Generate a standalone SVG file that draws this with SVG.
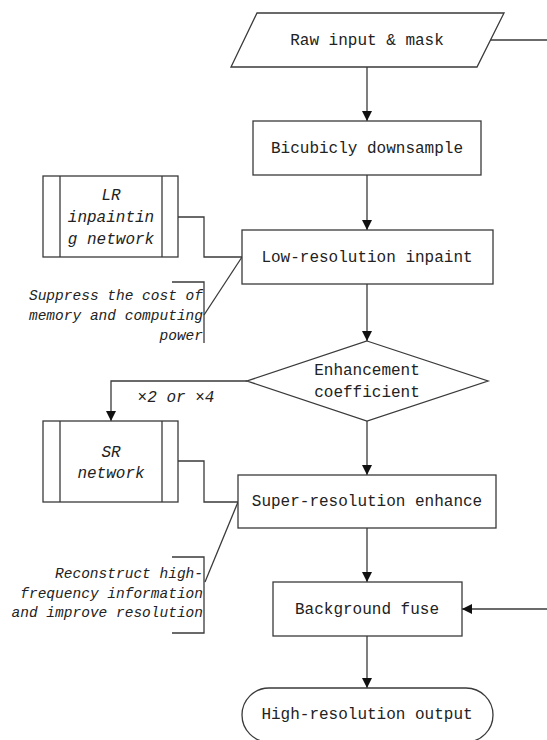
<svg xmlns="http://www.w3.org/2000/svg" width="547" height="740" viewBox="0 0 547 740">
<style>
.shape{fill:#fff;stroke:#3a3a3a;stroke-width:1.3}
.line{fill:none;stroke:#3a3a3a;stroke-width:1.3}
.t{font-family:"Liberation Mono",monospace;font-size:16px;fill:#222;text-anchor:middle}
.it{font-family:"Liberation Mono",monospace;font-style:italic;fill:#222}
.note{font-size:14.5px;text-anchor:end}
</style>
<defs>
<marker id="arr" viewBox="0 0 10 10" refX="10" refY="5" markerWidth="10" markerHeight="10" markerUnits="userSpaceOnUse" orient="auto">
<path d="M0,0 L10,5 L0,10 Z" fill="#111"/>
</marker>
</defs>
<g id="connectors">
<line class="line" x1="367" y1="67" x2="367" y2="121" marker-end="url(#arr)"/>
<line class="line" x1="490" y1="40" x2="547" y2="40"/>
<line class="line" x1="367" y1="175" x2="367" y2="230" marker-end="url(#arr)"/>
<line class="line" x1="367" y1="284" x2="367" y2="341" marker-end="url(#arr)"/>
<line class="line" x1="367" y1="421" x2="367" y2="475" marker-end="url(#arr)"/>
<polyline class="line" points="247,381 111,381 111,421" marker-end="url(#arr)"/>
<line class="line" x1="367" y1="528" x2="367" y2="582" marker-end="url(#arr)"/>
<line class="line" x1="547" y1="609" x2="462" y2="609" marker-end="url(#arr)"/>
<line class="line" x1="367" y1="636" x2="367" y2="688" marker-end="url(#arr)"/>
<polyline class="line" points="178,217 204,217 204,257 242,257"/>
<polyline class="line" points="178,461 204,461 204,502 238,502"/>
<polyline class="line" points="172,282 204,282 204,343"/>
<line class="line" x1="204" y1="315" x2="242" y2="257"/>
<polyline class="line" points="172,557 204,557 204,633 172,633"/>
<line class="line" x1="205" y1="582" x2="238" y2="502"/>
</g>
<g id="raw-input">
<polygon class="shape" points="257,13 504,13 477,67 231,67"/>
<text class="t" x="367" y="45">Raw input &amp; mask</text>
</g>
<g id="bicubic">
<rect class="shape" x="253" y="121" width="228" height="54"/>
<text class="t" x="367" y="153">Bicubicly downsample</text>
</g>
<g id="low-res">
<rect class="shape" x="242" y="230" width="251" height="54"/>
<text class="t" x="367" y="262">Low-resolution inpaint</text>
</g>
<g id="lr-network">
<rect class="shape" x="43" y="176" width="135" height="81"/>
<line class="line" x1="60" y1="176" x2="60" y2="257"/>
<line class="line" x1="162" y1="176" x2="162" y2="257"/>
<text class="it" x="111" y="200" font-size="16" text-anchor="middle">LR</text>
<text class="it" x="111" y="222" font-size="16" text-anchor="middle">inpaintin</text>
<text class="it" x="111" y="244" font-size="16" text-anchor="middle">g network</text>
</g>
<g id="note-lr">
<text class="it note" x="203" y="300">Suppress the cost of</text>
<text class="it note" x="203" y="320">memory and computing</text>
<text class="it note" x="203" y="340">power</text>
</g>
<g id="decision">
<polygon class="shape" points="367,341 488,381 367,421 247,381"/>
<text class="t" x="367" y="375">Enhancement</text>
<text class="t" x="367" y="397">coefficient</text>
</g>
<g id="scale-label">
<text class="it" x="176" y="402" font-size="16" text-anchor="middle">×2 or ×4</text>
</g>
<g id="sr-network">
<rect class="shape" x="43" y="421" width="135" height="81"/>
<line class="line" x1="60" y1="421" x2="60" y2="502"/>
<line class="line" x1="162" y1="421" x2="162" y2="502"/>
<text class="it" x="111" y="457" font-size="16" text-anchor="middle">SR</text>
<text class="it" x="111" y="478" font-size="16" text-anchor="middle">network</text>
</g>
<g id="super-res">
<rect class="shape" x="238" y="475" width="258" height="53"/>
<text class="t" x="367" y="506">Super-resolution enhance</text>
</g>
<g id="note-sr">
<text class="it note" x="203" y="578">Reconstruct high-</text>
<text class="it note" x="203" y="598">frequency information</text>
<text class="it note" x="203" y="617">and improve resolution</text>
</g>
<g id="background-fuse">
<rect class="shape" x="273" y="582" width="189" height="54"/>
<text class="t" x="367" y="614">Background fuse</text>
</g>
<g id="output">
<rect class="shape" x="242" y="688" width="251" height="54" rx="27" ry="27"/>
<text class="t" x="367" y="719">High-resolution output</text>
</g>
</svg>
